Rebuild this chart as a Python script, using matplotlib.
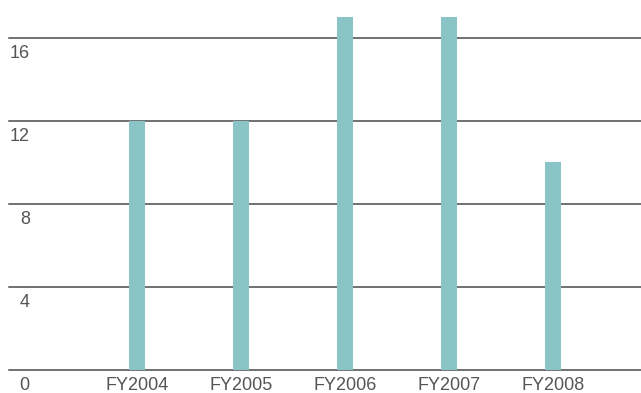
import matplotlib
matplotlib.use("Agg")
import matplotlib.pyplot as plt
from matplotlib.transforms import blended_transform_factory

# Data
years = ["FY2004", "FY2005", "FY2006", "FY2007", "FY2008"]
values = [12, 12, 17, 17, 10]
y_ticks = [0, 4, 8, 12, 16]

bar_color = "#89C4C7"
line_color = "#4a4a4a"
text_color = "#555555"

plt.rcParams["font.family"] = ["Liberation Sans", "DejaVu Sans"]

fig = plt.figure(figsize=(6.41, 3.93), dpi=100)
ax = fig.add_axes([9 / 641, 23 / 393, 632 / 641, 370 / 393])

x = list(range(len(years)))
ax.bar(x, values, width=0.154, color=bar_color, zorder=2)

# Horizontal rules at each tick value
for v in y_ticks:
    ax.axhline(v, color=line_color, linewidth=1.1, zorder=1, clip_on=False)

ax.set_xlim(-1.23, 4.846)
ax.set_ylim(0, 17.83)

# Y labels sit just under their rule, at the left edge
trans = blended_transform_factory(ax.transAxes, ax.transData)
for v in y_ticks:
    ax.annotate(str(v), xy=(0.033, v), xycoords=trans, xytext=(0, -5),
                textcoords="offset points", ha="right", va="top",
                fontsize=13, color=text_color, annotation_clip=False)

ax.set_xticks(x)
ax.set_xticklabels(years, fontsize=13, color=text_color)
ax.tick_params(axis="x", length=0, pad=5)
ax.set_yticks([])

for s in ax.spines.values():
    s.set_visible(False)

plt.savefig("out.png", dpi=100)
plt.close()
